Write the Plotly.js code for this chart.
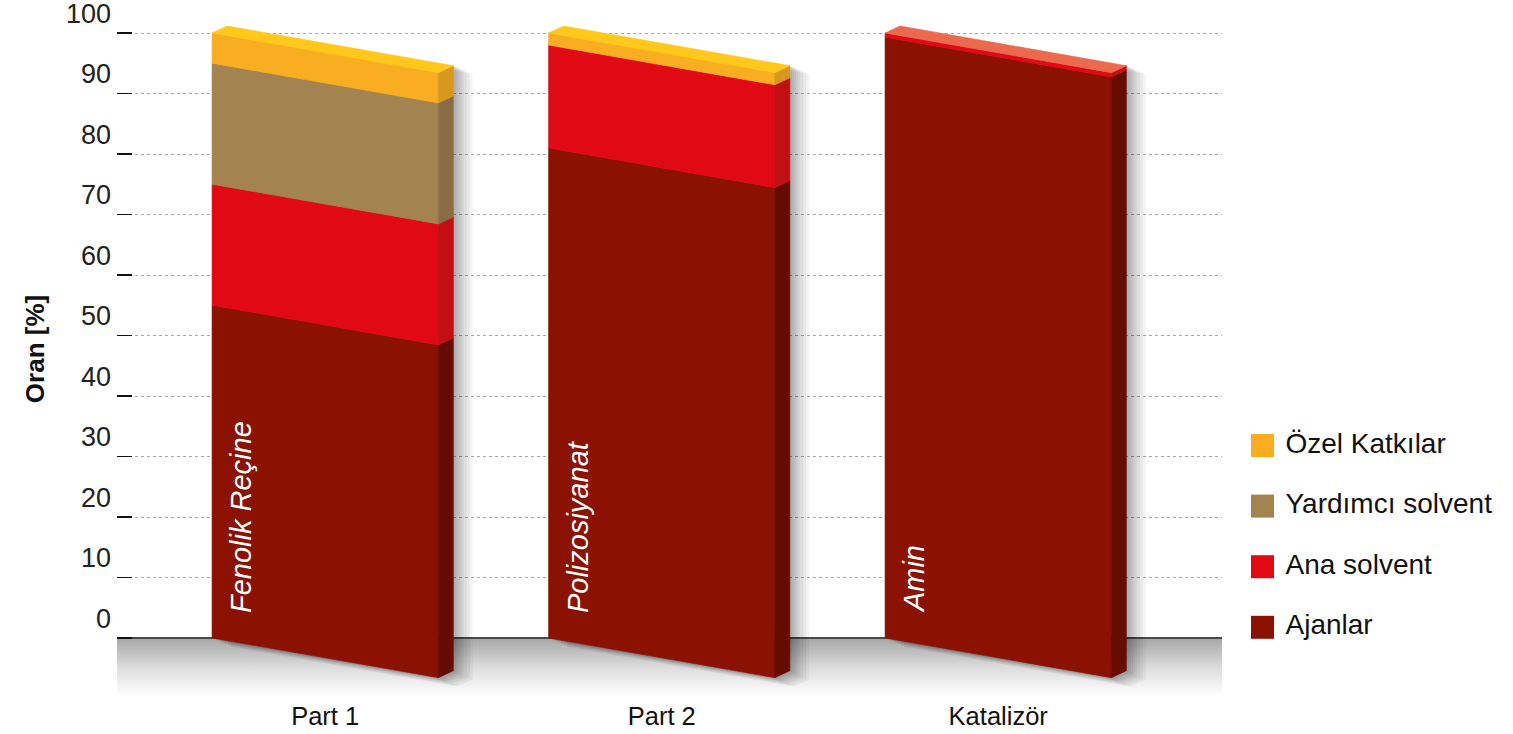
<!DOCTYPE html>
<html><head><meta charset="utf-8">
<script src="https://cdn.plot.ly/plotly-3.0.1.min.js"></script>
<style>html,body{margin:0;padding:0;background:#fff;} #chart{width:1513px;height:734px;}</style>
</head><body><div id="chart"></div>
<script>
// ---------- data ----------
const categories = ['Part 1', 'Part 2', 'Katalizör'];
const barLabels = ['Fenolik Reçine', 'Polizosiyanat', 'Amin'];
const seriesNames = ['Ajanlar', 'Ana solvent', 'Yardımcı solvent', 'Özel Katkılar'];
const ajanlar = [55, 81, 99.3];
const anaSolvent = [20, 17, 0.7];
const yardimciSolvent = [20, 0, 0];
const ozelKatkilar = [5, 2, 0];
const yTicks = [0, 10, 20, 30, 40, 50, 60, 70, 80, 90, 100];
const yAxisTitle = 'Oran [%]';

// ---------- styles ----------
const frontColors = ['#8B1100', '#E00914', '#A3834F', '#F9AE21'];
const sideColors = ['#650B00', '#C20F12', '#8A6D45', '#D8981F'];
const topColors = ['#A83A25', '#EB6A4E', '#B8976A', '#FFC81A'];
const FONT = 'Liberation Sans, Arial, sans-serif';

// ---------- geometry (pixels -> axis units) ----------
const M = {l: 117, r: 5, t: 0, b: 36};
const plotWpx = 1513 - M.l - M.r;
const plotHpx = 734 - M.t - M.b;
const mainWpx = 1105;
const xRange = [-0.6187, 2.665];
const yRange = [-9.917, 105.455];
const pxX = mainWpx / (xRange[1] - xRange[0]);
const pxY = plotHpx / (yRange[1] - yRange[0]);
const halfW = 113.15 / pxX;
const dropU = 39.7 / pxY;
const dxU = 15 / pxX;
const dyU = 7 / pxY;

const series = [ajanlar, anaSolvent, yardimciSolvent, ozelKatkilar];

function poly(xs, ys, color, xa, ya) {
  return {type: 'scatter', mode: 'lines', x: xs.concat([xs[0]]), y: ys.concat([ys[0]]),
    fill: 'toself', fillcolor: color, line: {width: 0.6, color: color},
    hoverinfo: 'skip', showlegend: false, xaxis: xa || 'x', yaxis: ya || 'y'};
}

const traces = [];
// floor with gradient
traces.push({type: 'scatter', mode: 'lines',
  x: [xRange[0], xRange[1], xRange[1], xRange[0], xRange[0]],
  y: [0, 0, yRange[0], yRange[0], 0],
  fill: 'toself', line: {width: 0},
  fillgradient: {type: 'vertical', start: yRange[0] + 0.3, stop: 0,
    colorscale: [[0, 'rgba(255,255,255,1)'], [0.5, '#dcdcdc'], [1, '#a6a6a6']]},
  hoverinfo: 'skip', showlegend: false});
// zero line
traces.push({type: 'scatter', mode: 'lines', x: [xRange[0], xRange[1]], y: [0, 0],
  line: {color: '#4a4a4a', width: 2}, hoverinfo: 'skip', showlegend: false});

// shadows
categories.forEach((c, i) => {
  const total = series.reduce((s, arr) => s + arr[i], 0);
  const L = i - halfW, R = i + halfW;
  const xs = [L, R, R + dxU, R + dxU, L + dxU, L];
  const ys = [0, -dropU, -dropU + dyU, total - dropU + dyU, total + dyU, total];
  [2, 4, 6, 8, 10, 13, 16, 19].forEach(k => {
    const ox = k / pxX, oy = -k * 0.45 / pxY;
    traces.push(poly(xs.map(v => v + ox), ys.map(v => v + oy), 'rgba(0,0,0,0.045)'));
  });
});

// bars
categories.forEach((c, i) => {
  const L = i - halfW, R = i + halfW;
  let base = 0, topIdx = 0;
  series.forEach((arr, s) => {
    const v = arr[i];
    if (v <= 0) return;
    const a = base, b = base + v;
    traces.push(poly([L, R, R, L], [a, a - dropU, b - dropU, b], frontColors[s]));
    traces.push(poly([R, R + dxU, R + dxU, R],
      [a - dropU, a - dropU + dyU, b - dropU + dyU, b - dropU], sideColors[s]));
    base = b; topIdx = s;
  });
  traces.push(poly([L, R, R + dxU, L + dxU],
    [base, base - dropU, base - dropU + dyU, base + dyU], topColors[topIdx]));
});

// legend (own hidden axes)
const x2Dom = [0.81, 1];
const x2Start = M.l + x2Dom[0] * plotWpx, x2Width = (x2Dom[1] - x2Dom[0]) * plotWpx;
const x2FromPx = p => (p - x2Start) / x2Width;
const legSpacing = 60.6, legBottomPx = 627.3;
const y2Range = [-(plotHpx - legBottomPx) / legSpacing, legBottomPx / legSpacing];
const idx = seriesNames.map((n, k) => k);
traces.push({type: 'scatter', mode: 'markers', xaxis: 'x2', yaxis: 'y2',
  x: idx.map(() => x2FromPx(1262.5)), y: idx,
  marker: {symbol: 'square', size: 23, color: frontColors, line: {width: 0}},
  hoverinfo: 'skip', showlegend: false, cliponaxis: false});
traces.push({type: 'scatter', mode: 'text', xaxis: 'x2', yaxis: 'y2',
  x: idx.map(() => x2FromPx(1285.5)), y: idx, text: seriesNames,
  textposition: 'middle right', textfont: {family: FONT, size: 28, color: '#111'},
  hoverinfo: 'skip', showlegend: false, cliponaxis: false});

const annotations = barLabels.map((t, i) => ({
  x: i - halfW + 29 / pxX, y: 23 / pxY, xref: 'x', yref: 'y',
  text: '<i>' + t + '</i>', textangle: -90, showarrow: false,
  xanchor: 'center', yanchor: 'bottom',
  font: {family: FONT, size: 29, color: '#ffffff'}
}));

const layout = {
  width: 1513, height: 734,
  margin: M,
  paper_bgcolor: '#fff', plot_bgcolor: 'rgba(0,0,0,0)',
  showlegend: false,
  xaxis: {domain: [0, mainWpx / plotWpx], range: xRange, showgrid: false, zeroline: false,
    showline: false, tickvals: categories.map((c, i) => i), ticktext: categories, ticks: '',
    tickfont: {family: FONT, size: 25.5, color: '#111'}, fixedrange: true},
  yaxis: {range: yRange, tickvals: yTicks, ticktext: yTicks.map(String),
    showgrid: true, gridcolor: '#a8a8a8', griddash: 'dot', gridwidth: 1,
    zeroline: false, showline: false, ticks: 'inside', ticklen: 15, tickcolor: '#111', tickwidth: 1.3,
    ticklabelposition: 'outside top', ticklabeloverflow: 'allow', ticklabelstandoff: 5,
    tickfont: {family: FONT, size: 27, color: '#222'},
    title: {text: yAxisTitle, font: {family: FONT, size: 26, color: '#111', weight: 'bold'}, standoff: 13},
    fixedrange: true},
  xaxis2: {domain: x2Dom, range: [0, 1], visible: false, anchor: 'y2', fixedrange: true},
  yaxis2: {domain: [0, 1], range: y2Range, visible: false, anchor: 'x2', fixedrange: true},
  annotations: annotations
};

Plotly.newPlot('chart', traces, layout, {displayModeBar: false, staticPlot: true});
</script>
</body></html>
